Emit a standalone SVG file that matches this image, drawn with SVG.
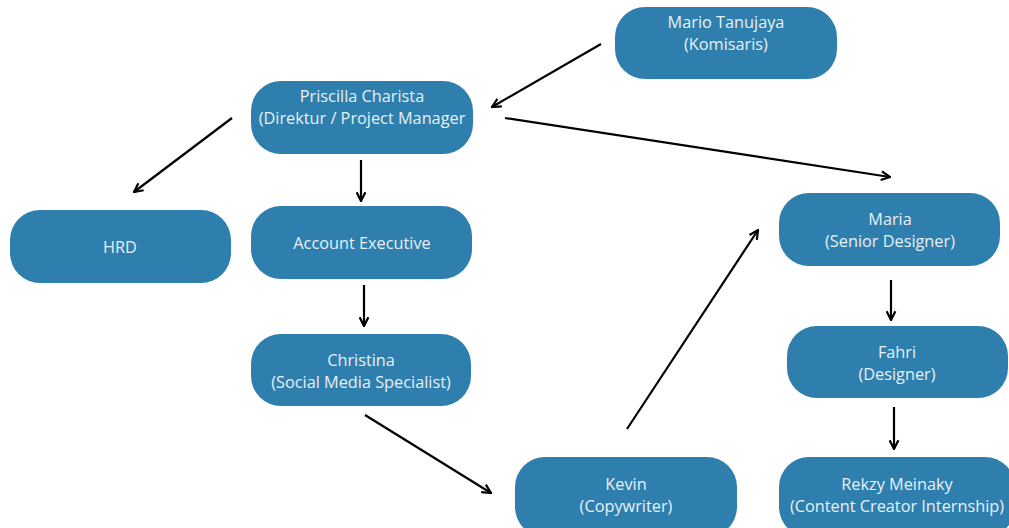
<svg xmlns="http://www.w3.org/2000/svg" width="1009" height="528" viewBox="0 0 1009 528">
<defs>
<style>
.n rect{fill:#2e7fae;}
.n text{fill:#e8f0f6;font-family:"Open Sans","Noto Sans","Liberation Sans",sans-serif;font-size:16.3px;text-anchor:middle;}
.c line{stroke:#000;stroke-width:2.2;fill:none;marker-end:url(#ah);}
</style>
<marker id="ah" viewBox="0 0 10 10" refX="9" refY="5" markerWidth="5" markerHeight="5" orient="auto" markerUnits="strokeWidth">
<path d="M1,1 L9,5 L1,9" fill="none" stroke="#000" stroke-width="2"/>
</marker>
</defs>
<rect width="1009" height="528" fill="#fff"/>
<g id="mario" class="n"><rect x="615" y="7" width="222" height="72" rx="30"/><text x="726" y="28">Mario Tanujaya</text><text x="726" y="50">(Komisaris)</text></g>
<g id="priscilla" class="n"><rect x="251" y="81" width="222" height="73" rx="30"/><text x="362" y="102">Priscilla Charista</text><text x="362" y="124">(Direktur / Project Manager</text></g>
<g id="hrd" class="n"><rect x="10" y="210" width="221" height="73" rx="30"/><text x="120" y="253">HRD</text></g>
<g id="account" class="n"><rect x="251" y="206" width="221" height="73" rx="30"/><text x="362" y="249">Account Executive</text></g>
<g id="christina" class="n"><rect x="251" y="334" width="220" height="72" rx="30"/><text x="361" y="366">Christina</text><text x="361" y="388">(Social Media Specialist)</text></g>
<g id="kevin" class="n"><rect x="515" y="457" width="222" height="80" rx="30"/><text x="626" y="490">Kevin</text><text x="626" y="512">(Copywriter)</text></g>
<g id="maria" class="n"><rect x="779" y="193" width="221" height="73" rx="30"/><text x="890" y="225">Maria</text><text x="890" y="247">(Senior Designer)</text></g>
<g id="fahri" class="n"><rect x="787" y="326" width="221" height="72" rx="30"/><text x="897" y="358">Fahri</text><text x="897" y="380">(Designer)</text></g>
<g id="rekzy" class="n"><rect x="779" y="457" width="236" height="80" rx="30"/><text x="897" y="490">Rekzy Meinaky</text><text x="897" y="512">(Content Creator Internship)</text></g>
<g id="connectors" class="c">
<line x1="601" y1="44" x2="492" y2="107"/>
<line x1="232" y1="118" x2="134" y2="192"/>
<line x1="361" y1="160" x2="361" y2="201"/>
<line x1="505" y1="118" x2="890" y2="177"/>
<line x1="364" y1="285" x2="364" y2="326"/>
<line x1="365" y1="415" x2="491" y2="493"/>
<line x1="627" y1="429" x2="758" y2="230"/>
<line x1="891" y1="280" x2="891" y2="320"/>
<line x1="894" y1="407" x2="894" y2="449"/>
</g>
</svg>
